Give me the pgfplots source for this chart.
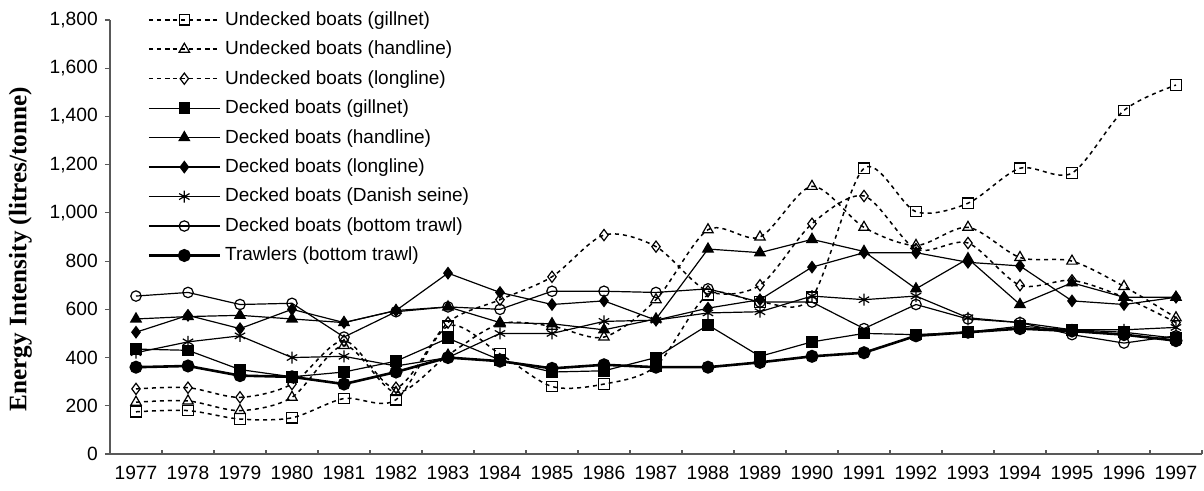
\documentclass[border=0pt]{standalone}
\usepackage{fontspec}
\setmainfont{Liberation Sans}
\newfontfamily\timesfont{Liberation Serif}
\usepackage{pgfplots}
\pgfplotsset{compat=1.18}
\usepackage{pgfplotstable}

% Energy intensity per fleet segment, litres per tonne landed (1977-1997)
\pgfplotstableread{
idx UG   UH   UL   DG  DH  DL  DS  DB  TR
0   175  215  270  435 560 505 420 655 360
1   180  220  275  430 570 575 465 670 365
2   145  180  235  350 575 520 490 620 325
3   150  235  290  320 560 600 400 625 320
4   230  450  470  340 545 545 405 485 290
5   225  255  275  385 595 595 365 590 340
6   530  410  545  480 610 750 400 610 400
7   415  540  640  390 545 670 500 600 385
8   280  530  735  340 540 620 500 675 355
9   290  485  908  345 515 635 550 675 370
10  365  640  860  400 560 555 555 670 360
11  660  930  675  535 850 605 585 685 360
12  630  900  700  405 835 640 590 630 380
13  650  1110 955  465 890 775 655 630 405
14  1185 940  1070 500 840 835 640 520 420
15  1005 865  850  495 685 835 655 620 490
16  1040 940  875  505 810 795 565 560 505
17  1185 815  700  530 620 780 545 545 520
18  1165 800  720  515 710 635 515 495 510
19  1425 695  650  505 650 620 515 460 495
20  1530 565  545  480 650 650 525 490 470
}\energydata

\begin{document}
\begin{tikzpicture}
\begin{axis}[
  scale only axis,
  width=546pt, height=217pt,
  xmin=-0.5, xmax=20.5,
  ymin=0, ymax=1800,
  axis x line*=bottom,
  axis y line*=left,
  axis line style={black!65, line width=0.6pt},
  xtick={0,...,20},
  xticklabels={1977,1978,1979,1980,1981,1982,1983,1984,1985,1986,1987,1988,1989,1990,1991,1992,1993,1994,1995,1996,1997},
  minor xtick={-0.5,0.5,...,20.5},
  major x tick style={draw=none},
  minor x tick style={black!65, line width=0.6pt},
  minor tick length=2.2pt,
  xtick align=inside,
  ytick={0,200,...,1800},
  ytick align=outside,
  y tick style={black!65, line width=0.6pt},
  major tick length=2.6pt,
  tick label style={font=\fontsize{9.6}{11}\selectfont},
  x tick label style={yshift=-2.5pt},
  /pgf/number format/assume math mode=true,
  /pgf/number format/1000 sep={,},
  ylabel={\timesfont\bfseries Energy Intensity (litres/tonne)},
  ylabel style={at={(axis description cs:-0.082,0.472)}, anchor=center, font=\fontsize{12.6}{14}\selectfont},
  legend cell align=left,
  legend style={draw=none, fill=none, at={(rel axis cs:0.034,1.03)}, anchor=north west,
    font=\fontsize{9.5}{11}\selectfont, row sep=2.35pt, inner sep=0pt},
  legend image code/.code={\draw[mark repeat=2,mark phase=2,#1] plot coordinates {(0pt,0pt) (17.75pt,0pt) (35.5pt,0pt)};},
  clip=false,
]
% undecked boats: dashed smoothed lines, hollow marks
\addplot[black, line width=0.75pt, dash pattern=on 2pt off 2pt, smooth, tension=0.5,
  mark=square, mark options={solid, line width=0.6pt, mark size=2.6pt}]
  table[x=idx, y=UG] {\energydata};
\addlegendentry{Undecked boats (gillnet)}
\addplot[black, line width=0.75pt, dash pattern=on 2pt off 2pt, smooth, tension=0.5,
  mark=triangle, mark options={solid, line width=0.6pt, mark size=3pt}]
  table[x=idx, y=UH] {\energydata};
\addlegendentry{Undecked boats (handline)}
\addplot[black, line width=0.75pt, dash pattern=on 2pt off 2pt, smooth, tension=0.5,
  mark=diamond, mark options={solid, line width=0.6pt, mark size=2.8pt}]
  table[x=idx, y=UL] {\energydata};
\addlegendentry{Undecked boats (longline)}
% decked boats: thin solid lines
\addplot[black, line width=0.6pt, mark=square*, mark options={solid, mark size=2.6pt}]
  table[x=idx, y=DG] {\energydata};
\addlegendentry{Decked boats (gillnet)}
\addplot[black, line width=0.6pt, mark=triangle*, mark options={solid, mark size=3pt}]
  table[x=idx, y=DH] {\energydata};
\addlegendentry{Decked boats (handline)}
\addplot[black, line width=0.6pt, mark=diamond*, mark options={solid, mark size=2.8pt}]
  table[x=idx, y=DL] {\energydata};
\addlegendentry{Decked boats (longline)}
\addplot[black, line width=0.6pt, mark=asterisk, mark options={solid, mark size=3pt}]
  table[x=idx, y=DS] {\energydata};
\addlegendentry{Decked boats (Danish seine)}
\addplot[black, line width=0.6pt, mark=o, mark options={solid, mark size=2.6pt}]
  table[x=idx, y=DB] {\energydata};
\addlegendentry{Decked boats (bottom trawl)}
% trawlers: heavy line
\addplot[black, line width=1.3pt, mark=*, mark options={solid, mark size=2.6pt}]
  table[x=idx, y=TR] {\energydata};
\addlegendentry{Trawlers (bottom trawl)}
\end{axis}
\path (current axis.south west) ++(-55pt,-18.5pt);
\path (current axis.north east) ++(1pt,10pt);
\end{tikzpicture}
\end{document}
